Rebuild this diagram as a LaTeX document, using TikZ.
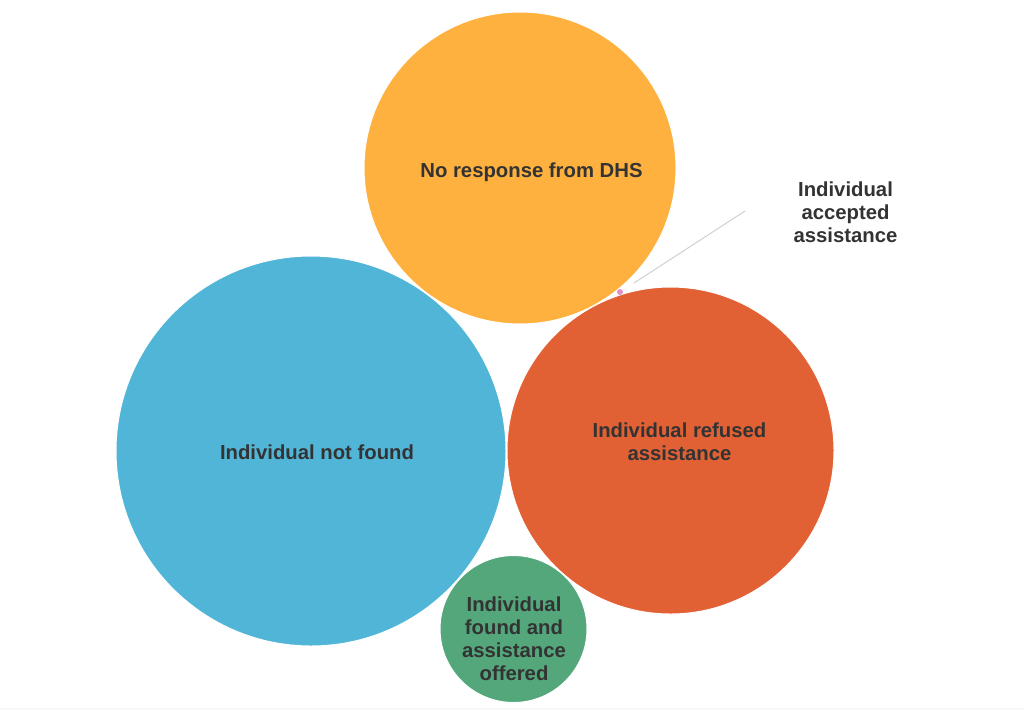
\documentclass[tikz,border=0pt]{standalone}
\usepackage{fontspec}
\setmainfont{Liberation Sans}
\definecolor{dhsorange}{HTML}{FEB13F}
\definecolor{notfoundblue}{HTML}{51B5D8}
\definecolor{refusedred}{HTML}{E26134}
\definecolor{offeredgreen}{HTML}{53A77B}
\definecolor{acceptedpink}{HTML}{E28FC8}
\definecolor{labelgray}{HTML}{333333}
\definecolor{leadergray}{HTML}{CFCFCF}
\begin{document}
\begin{tikzpicture}[x=1pt,y=-1pt, line join=round, line cap=round,
			bubble/.style={circle,inner sep=0pt,draw=white,line width=1pt},
			lbl/.style={font=\bfseries\fontsize{20.3}{23}\selectfont,text=labelgray,align=center,inner sep=0pt}]
			\useasboundingbox (0,0) rectangle (1024,710);
			\fill[gray!6] (0,707.5) rectangle (1024,710);
			\node[bubble,fill=notfoundblue,minimum size=390pt](notfound) at (311,451){};
			\node[bubble,fill=dhsorange,minimum size=312pt](dhs) at (520,168){};
			\node[bubble,fill=refusedred,minimum size=327pt](refused) at (670.5,450.5){};
			\node[bubble,fill=offeredgreen,minimum size=147pt](offered) at (513.5,629){};
			\node[circle,inner sep=0pt,fill=acceptedpink,minimum size=6pt](accepted) at (620,292){};
			\node[lbl](dhs text) at (531.5,172){No response from DHS};
			\node[lbl](notfound text) at (317,452){Individual not found};
			\node[lbl](refused text) at (679.5,442){Individual refused\\assistance};
			\node[lbl](offered text) at (514,639){Individual\\found and\\assistance\\offered};
			\node[lbl](accepted text) at (845.5,212){Individual\\accepted\\assistance};
			\coordinate (accepted tip) at (634,283);
			\coordinate (accepted end) at (745,211);
			\draw[leadergray,line width=1pt](accepted tip)--(accepted end);
			\end{tikzpicture}
\end{document}
